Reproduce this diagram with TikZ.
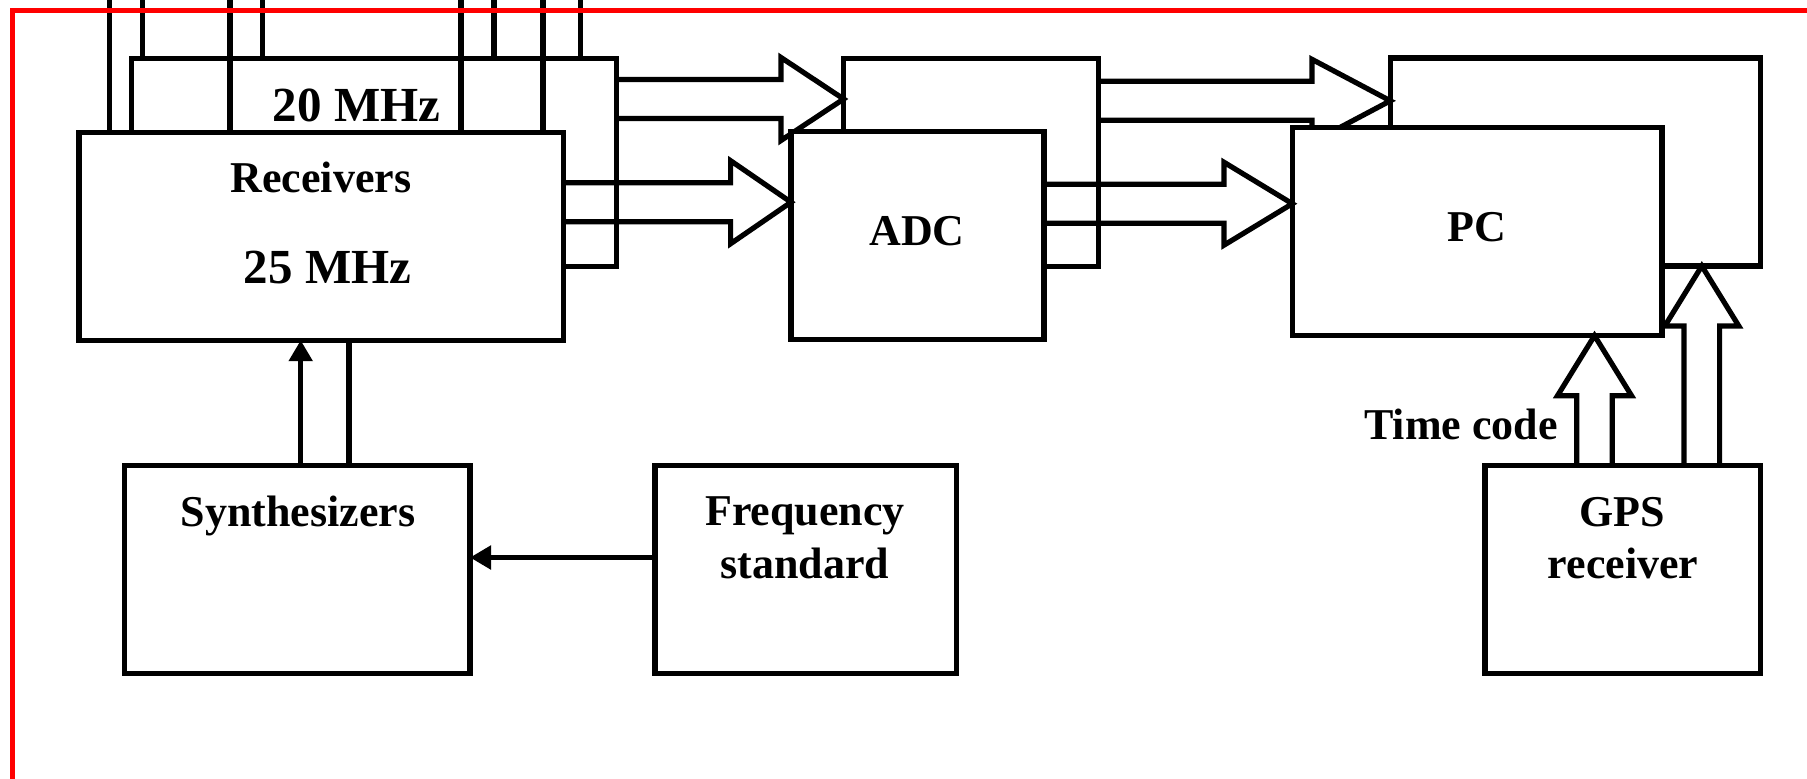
\documentclass[tikz,border=0pt]{standalone}
\usepackage{fontspec}
\setmainfont{Liberation Serif}
\usetikzlibrary{arrows.meta,calc}

\tikzset{
  unit/.style={draw, fill=white, line width=2.6pt, minimum height=104pt, inner sep=0pt, outer sep=0pt},
  lab/.style={font=\bfseries\fontsize{22}{26}\selectfont, anchor=base, inner sep=0pt},
  mhzlab/.style={lab, font=\bfseries\fontsize{24.5}{28}\selectfont},
  wire/.style={line width=2.6pt},
  blockarrow/.style={draw, line width=2.6pt, line join=miter},
  tip/.style={-{Triangle[length=10.5pt,width=11.5pt]}},
}

% hollow block arrows: start, tip, head length
\newcommand{\blockright}[3]{%
  \draw[blockarrow] let \p1=(#1), \p2=(#2) in
    (\x1,\y1+9.75pt) -- (\x2-#3,\y1+9.75pt) -- (\x2-#3,\y1+20.75pt) -- (\x2,\y1)
    -- (\x2-#3,\y1-20.75pt) -- (\x2-#3,\y1-9.75pt) -- (\x1,\y1-9.75pt);}
\newcommand{\blockup}[3]{%
  \draw[blockarrow] let \p1=(#1), \p2=(#2) in
    (\x1-8.9pt,\y1) -- (\x1-8.9pt,\y2-#3) -- (\x1-18.5pt,\y2-#3) -- (\x1,\y2)
    -- (\x1+18.5pt,\y2-#3) -- (\x1+8.9pt,\y2-#3) -- (\x1+8.9pt,\y1);}

\begin{document}
\begin{tikzpicture}[x=0.5pt, y=-0.5pt]
  \path[fill=white] (0,0) rectangle (1807,778);
  \useasboundingbox (0,0) rectangle (1807,778);

  % back row
  \node[unit, minimum width=242.35pt] (recB) at (374.05,162.4) {};
  \node[unit, minimum width=127.35pt] (adcB) at (970.95,162.4) {};
  \node[unit, minimum width=185.2pt] (pcB) at (1575.5,162) {};
  \node[mhzlab] (mhz20) at (356.5,121.7) {20 MHz};

  \blockright{recB.east |- 0,99}{adcB.west |- 0,99}{31.3pt}
  \blockright{adcB.east |- 0,100.8}{pcB.west |- 0,100.8}{39.2pt}

  % front row
  \node[unit, minimum width=242.35pt] (recF) at (321.35,236.2) {};
  \node[unit, minimum width=126.5pt] (adcF) at (917.5,235.85) {};
  \node[unit, minimum width=184.85pt] (pcF) at (1477.15,231.65) {};

  \blockright{recF.east |- 0,202.2}{adcF.west |- 0,202.2}{30.2pt}
  \blockright{adcF.east |- 0,203.7}{pcF.west |- 0,203.7}{34.2pt}

  \node[lab] (reclab) at (321,192.7) {Receivers};
  \node[mhzlab] (mhz25) at (327.5,283.3) {25 MHz};
  \node[lab] (adclab) at (917,245) {ADC};
  \node[lab] (pclab) at (1477,241.7) {PC};

  % antenna inputs
  \foreach \x/\b [count=\i] in {109.8/recF, 142.2/recB, 230/recF, 262.4/recB,
                                461/recF, 494/recB, 543/recF, 580.3/recB}{
    \coordinate (ant\i) at (\x,-5);
    \draw[wire] (ant\i) -- (ant\i |- \b.north);
  }

  % bottom row
  \node[unit, minimum width=172.8pt] (synth) at (297.2,569.35) {};
  \node[unit, minimum width=150.85pt] (freq) at (805.85,569.5) {};
  \node[unit, minimum width=137.75pt] (gps) at (1622.75,569.35) {};

  \node[lab] (synthlab) at (298.2,526.7) {Synthesizers};
  \node[lab] (freqlab1) at (805,525.7) {Frequency};
  \node[lab] (freqlab2) at (805,578.3) {standard};
  \node[lab] (gpslab1) at (1622,526.7) {GPS};
  \node[lab] (gpslab2) at (1623,578.3) {receiver};
  \node[lab] (timelab) at (1461,439.3) {Time code};

  \draw[wire, tip] (synth.north -| 300.7,0) -- (recF.south -| 300.7,0);
  \draw[wire] (synth.north -| 349,0) -- (recF.south -| 349,0);
  \draw[wire, tip] (freq.west |- 0,557.5) -- (synth.east |- 0,557.5);

  \blockup{gps.north -| 1594.5,0}{pcF.south -| 1594.5,0}{30pt}
  \blockup{gps.north -| 1701.8,0}{pcB.south -| 1701.8,0}{30pt}

  % frame
  \draw[red, line width=2.5pt] (12.5,800) -- (12.5,10.5) -- (1830,10.5);
\end{tikzpicture}
\end{document}
